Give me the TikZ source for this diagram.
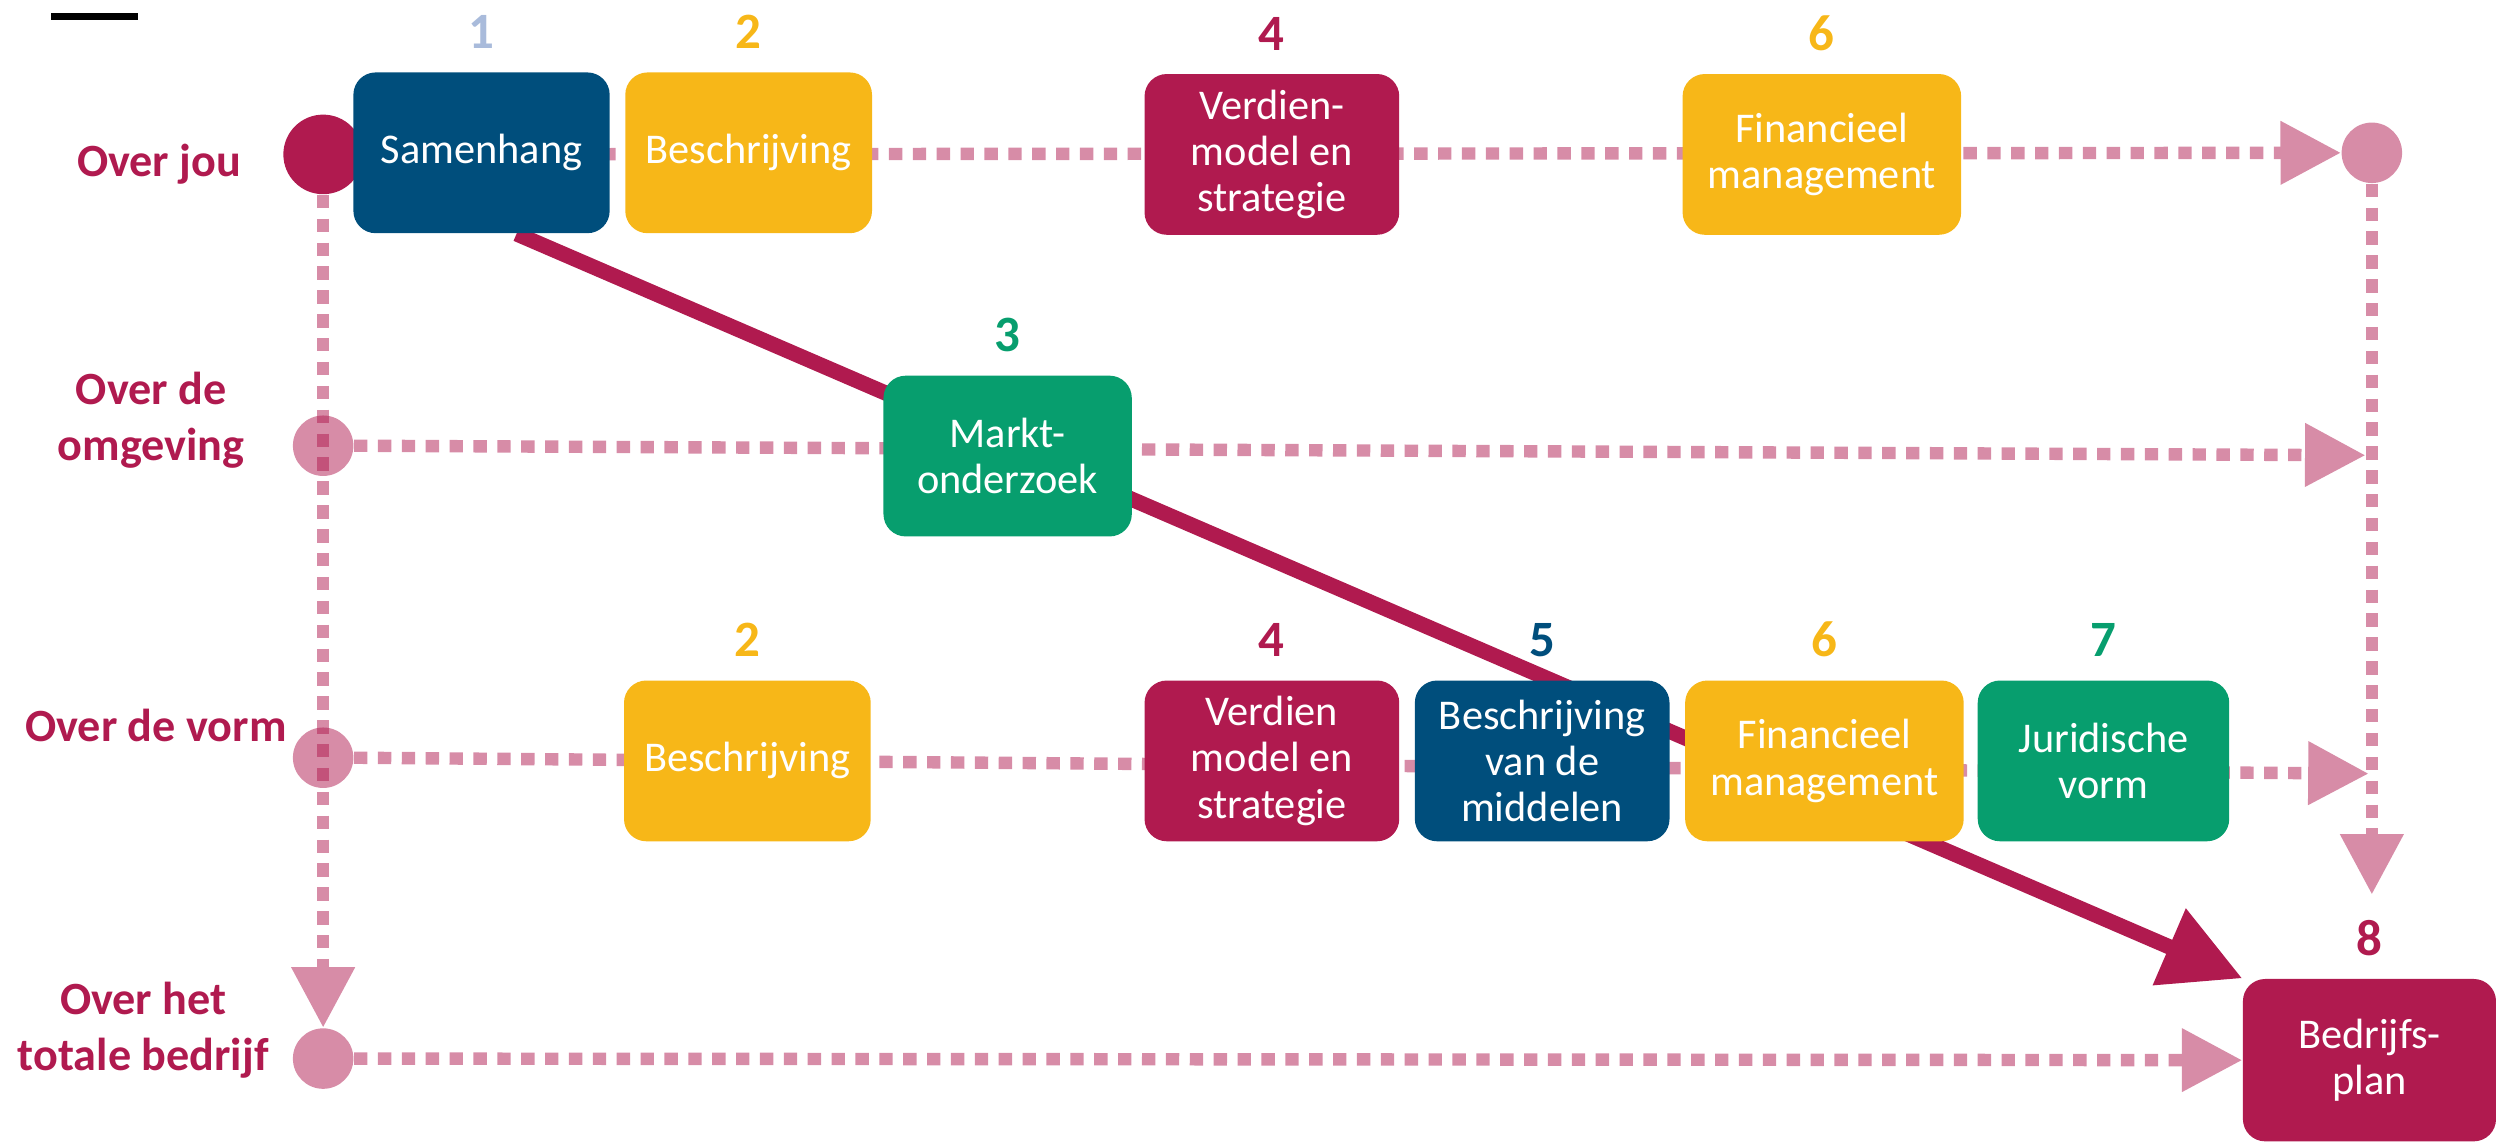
\documentclass[tikz,border=0pt]{standalone}
\usepackage{fontspec}
\setmainfont{Carlito}
\usepackage{tikz}
\usetikzlibrary{arrows.meta,positioning,backgrounds}
\definecolor{crim}{HTML}{B01A4F}
\definecolor{navy}{HTML}{004E7C}
\definecolor{gold}{HTML}{F7B718}
\definecolor{groen}{HTML}{079E6E}
\definecolor{grijsblauw}{HTML}{A9BBDB}
\tikzset{
  box/.style={fill=#1,rounded corners=7pt,minimum width=80pt,minimum height=50.5pt,
    inner sep=2pt,align=center,text=white,font=\fontsize{13.3}{14.5}\selectfont},
  num/.style={inner sep=0pt,font=\fontsize{16}{18}\selectfont\bfseries},
  lab/.style={text=crim,align=center,font=\fontsize{14.5}{17.5}\selectfont\bfseries},
  pdot/.style={circle,fill=crim,fill opacity=.5,inner sep=0pt,minimum size=19pt},
  route/.style={draw=crim!50,line width=3.9pt,dash pattern=on 4.2pt off 3.3pt,
    -{Triangle[length=19pt,width=19pt]}},
  flow/.style={draw=crim,line width=4.8pt,-{Triangle[length=25pt,width=25pt]}}
}

\begin{document}
\begin{tikzpicture}[x=0.5pt,y=-0.5pt]
  \useasboundingbox (0,0) rectangle (1568,717);
  \fill (32,8) rectangle (87,12.6);
  % rij-cirkels
  \node[circle,fill=crim,inner sep=0pt,minimum size=25pt] (cJou) at (203,97) {};
  \node[pdot] (cOmg) at (203,280) {};
  \node[pdot] (cVorm) at (203,476) {};
  \node[pdot] (cTot) at (203,665) {};
  \node[pdot] (cEnd) at (1490,96) {};
  \coordinate (eOmg) at (1486,286);
  \coordinate (eVorm) at (1488,486);
  \coordinate (eEnd) at (1490,562);
  % labels
  \node[lab] (lJou) at (100,103) {Over jou};
  \node[lab] (lOmg) at (95,264) {Over de\\omgeving};
  \node[lab] (lVorm) at (98,456) {Over de vorm};
  \node[lab] (lTot) at (90,647) {Over het\\totale bedrijf};
  % stappen
  \node[box=navy,minimum width=80.5pt] (sam) at (302.5,96) {Samenhang};
  \node[box=gold,minimum width=77.5pt,right=4.5pt of sam] (beschA) {Beschrijving};
  \node[box=crim] (verdA) at (799,97) {Verdien-\\model en\\strategie};
  \node[box=gold,minimum width=87.5pt] (finA) at (1144.5,97) {Financieel\\management};
  \node[box=groen,minimum width=78pt] (markt) at (633,286.5) {Markt-\\onderzoek};
  \node[box=gold,minimum width=77.5pt] (beschB) at (469.5,478) {Beschrijving};
  \node[box=crim] (verdB) at (799,478) {Verdien\\model en\\strategie};
  \node[box=navy,right=4.5pt of verdB] (midd) {Beschrijving\\van de\\middelen};
  \node[box=gold,minimum width=87.5pt,right=4.5pt of midd] (finB) {Financieel\\management};
  \node[box=groen,minimum width=79pt,right=4pt of finB] (jur) {Juridische\\vorm};
  \node[box=crim,minimum width=79.5pt,minimum height=51pt] (plan) at (1488.5,666) {Bedrijfs-\\plan};
  % nummers
  \foreach \b/\n/\c in {sam/1/grijsblauw,beschA/2/gold,verdA/4/crim,finA/6/gold,
    markt/3/groen,beschB/2/gold,verdB/4/crim,midd/5/navy,finB/6/gold,jur/7/groen,plan/8/crim}
    \node[num,text=\c,above=7pt of \b] (n\b) {\n};
  % routes
  \begin{scope}[on background layer]
    \draw[route] (cJou.east) -- (cEnd.west);
    \draw[route] (cOmg.east) -- (eOmg);
    \draw[route] (cVorm.east) -- (eVorm);
    \draw[route] (cTot.east) -- (plan.west);
    \draw[route] (cJou.south) -- (cTot.north);
    \draw[route] (cEnd.south) -- (eEnd);
    \draw[flow] ([xshift=11pt]sam.south) -- (plan.north west);
  \end{scope}
\end{tikzpicture}
\end{document}
